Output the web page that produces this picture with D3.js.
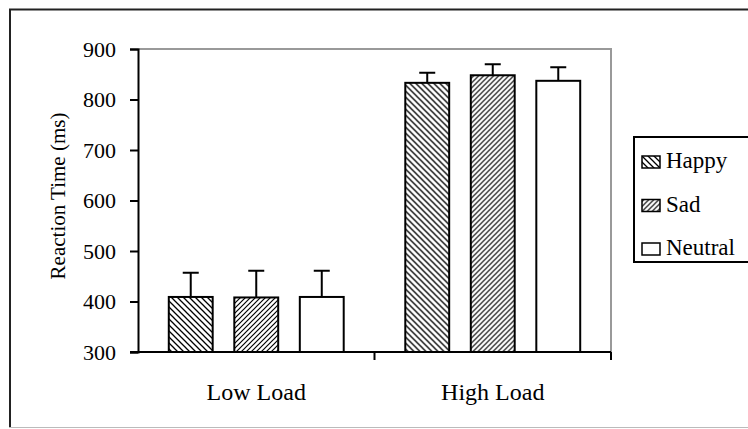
<!DOCTYPE html>
<meta charset="utf-8">
<head>
    <title>Reaction Time</title>
    <script src="https://cdn.jsdelivr.net/npm/d3@7"></script>
    <style>
        body { margin: 0; background: #fff; }
        text { font-family: "Liberation Serif", "Times New Roman", serif; fill: #000; }
    </style>
</head>
<body>
<script>
    // data
    var categories = ["Low Load", "High Load"];
    var series = ["Happy", "Sad", "Neutral"];
    var means = [[409, 408, 409], [833, 848, 837]];
    var errTops = [[457, 461, 461], [853, 870, 864]];
    var yTicks = [300, 400, 500, 600, 700, 800, 900];

    var width = 748, height = 429;
    var plot = { left: 138, right: 611, top: 49, bottom: 352 };

    var svg = d3.select("body").append("svg")
        .attr("width", width)
        .attr("height", height);

    var defs = svg.append("defs");
    // Happy: back-slash hatch
    var p1 = defs.append("pattern").attr("id", "happy")
        .attr("patternUnits", "userSpaceOnUse").attr("width", 6).attr("height", 6);
    p1.append("rect").attr("width", 6).attr("height", 6).attr("fill", "#fff");
    p1.append("path").attr("d", "M-1,-1 L7,7 M-1,5 L1,7 M5,-1 L7,1")
        .attr("stroke", "#000").attr("stroke-width", 1.3);
    // Sad: forward-slash hatch
    var p2 = defs.append("pattern").attr("id", "sad")
        .attr("patternUnits", "userSpaceOnUse").attr("width", 5).attr("height", 5);
    p2.append("rect").attr("width", 5).attr("height", 5).attr("fill", "#fff");
    p2.append("path").attr("d", "M-1,6 L6,-1 M-1,1 L1,-1 M4,6 L6,4")
        .attr("stroke", "#000").attr("stroke-width", 1.2);

    var fills = { "Happy": "url(#happy)", "Sad": "url(#sad)", "Neutral": "#fff" };

    // outer frame
    svg.append("line").attr("x1", 10).attr("x2", 10).attr("y1", 9).attr("y2", 428)
        .attr("stroke", "#222").attr("stroke-width", 2);
    svg.append("line").attr("x1", 9).attr("x2", 748).attr("y1", 9.5).attr("y2", 9.5)
        .attr("stroke", "#222").attr("stroke-width", 2);
    svg.append("line").attr("x1", 9).attr("x2", 748).attr("y1", 427.5).attr("y2", 427.5)
        .attr("stroke", "#bbb").attr("stroke-width", 1);

    var y = d3.scaleLinear().domain([300, 900]).range([plot.bottom, plot.top]);
    var x0 = d3.scaleBand().domain(categories).range([plot.left, plot.right]).padding(0);
    var x1 = d3.scaleBand().domain(series).range([0, x0.bandwidth()])
        .paddingInner(0.33).paddingOuter(0.47);

    // plot area border (grey top and right)
    svg.append("path")
        .attr("d", "M" + plot.left + "," + plot.top + "H" + plot.right + "V" + plot.bottom)
        .attr("fill", "none").attr("stroke", "#999").attr("stroke-width", 2);

    // bars
    var groups = svg.selectAll(".grp").data(categories).enter().append("g")
        .attr("transform", function(d) { return "translate(" + x0(d) + ",0)"; });

    function rows(d, i) {
        return series.map(function(s, j) { return { s: s, v: means[i][j], e: errTops[i][j] }; });
    }

    groups.selectAll("rect").data(rows).enter().append("rect")
        .attr("x", function(d) { return x1(d.s); })
        .attr("y", function(d) { return y(d.v); })
        .attr("width", x1.bandwidth())
        .attr("height", function(d) { return plot.bottom - y(d.v); })
        .attr("fill", function(d) { return fills[d.s]; })
        .attr("stroke", "#000").attr("stroke-width", 2);

    // error bars
    groups.selectAll(".err").data(rows).enter().append("path")
        .attr("d", function(d) {
            var cx = x1(d.s) + x1.bandwidth() / 2;
            return "M" + cx + "," + y(d.v) + "V" + y(d.e) + "M" + (cx - 8) + "," + y(d.e) + "H" + (cx + 8);
        })
        .attr("fill", "none").attr("stroke", "#000").attr("stroke-width", 2);

    // y axis
    var yAxis = svg.append("g").attr("transform", "translate(" + plot.left + ",0)")
        .call(d3.axisLeft(y).tickValues(yTicks).tickSize(8).tickPadding(14));
    yAxis.select(".domain").attr("stroke-width", 2);
    yAxis.selectAll(".tick line").attr("stroke-width", 2);
    yAxis.selectAll("text").style("font-size", "22px")
        .style("font-family", "Liberation Serif");

    // x axis
    svg.append("line").attr("x1", plot.left - 8).attr("x2", plot.right)
        .attr("y1", plot.bottom).attr("y2", plot.bottom)
        .attr("stroke", "#000").attr("stroke-width", 2);
    svg.selectAll(".xtick").data([plot.left + x0.bandwidth(), plot.right]).enter().append("line")
        .attr("x1", function(d) { return d; }).attr("x2", function(d) { return d; })
        .attr("y1", plot.bottom).attr("y2", plot.bottom + 8)
        .attr("stroke", "#000").attr("stroke-width", 2);
    svg.selectAll(".xlab").data(categories).enter().append("text")
        .attr("x", function(d) { return x0(d) + x0.bandwidth() / 2; })
        .attr("y", 400)
        .attr("text-anchor", "middle")
        .style("font-size", "24px")
        .text(function(d) { return d; });

    // y title
    svg.append("text")
        .attr("transform", "translate(65,196) rotate(-90)")
        .attr("text-anchor", "middle")
        .style("font-size", "21px")
        .text("Reaction Time (ms)");

    // legend
    var legend = svg.append("g");
    legend.append("rect").attr("x", 634).attr("y", 137).attr("width", 130).attr("height", 125)
        .attr("fill", "#fff").attr("stroke", "#000").attr("stroke-width", 2);
    var items = legend.selectAll(".li").data(series).enter().append("g")
        .attr("transform", function(d, i) { return "translate(642," + (168 + i * 43.5) + ")"; });
    items.append("rect").attr("y", -12).attr("width", 18).attr("height", 12)
        .attr("fill", function(d) { return fills[d]; })
        .attr("stroke", "#000").attr("stroke-width", 1.5);
    items.append("text").attr("x", 24).attr("y", 0)
        .style("font-size", "23px")
        .text(function(d) { return d; });
</script>
</body>
</html>
